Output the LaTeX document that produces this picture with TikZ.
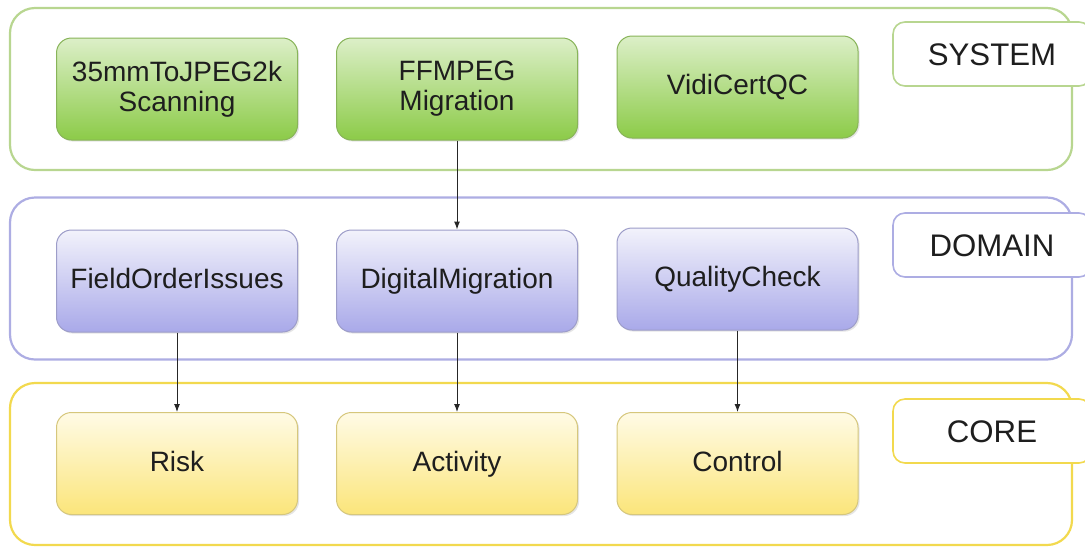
\documentclass[tikz,border=0pt]{standalone}
\usepackage{fontspec}
\setmainfont{Liberation Sans}
\usetikzlibrary{arrows.meta,shadows}
\definecolor{sysTop}{HTML}{DCEFC8}
\definecolor{sysBot}{HTML}{8CCB48}
\definecolor{sysLine}{HTML}{B8D690}
\definecolor{domTop}{HTML}{F2F2FB}
\definecolor{domBot}{HTML}{A9A9E9}
\definecolor{domLine}{HTML}{ADADE3}
\definecolor{corTop}{HTML}{FFFBE6}
\definecolor{corBot}{HTML}{FBE57A}
\definecolor{corLine}{HTML}{F2D94E}
\definecolor{ink}{HTML}{1E1E1E}
\begin{document}
\begin{tikzpicture}[x=0.5pt, y=-0.5pt,
        layer/.style={draw=#1, line width=1.1pt, rounded corners=12.5pt, fill=white,
            minimum width=531pt, minimum height=81pt, inner sep=0pt},
        tag/.style={draw=#1, line width=0.8pt, rounded corners=6pt, fill=white,
            minimum width=99pt, minimum height=32pt, inner sep=0pt,
            text height=11pt, text depth=0pt,
            font=\fontsize{15.6}{17}\selectfont, text=ink},
        box/.style 2 args={draw=#2!70!gray, line width=0.5pt, rounded corners=7.5pt,
            top color=#1Top, bottom color=#1Bot,
            drop shadow={opacity=0.2, shadow xshift=0.8pt, shadow yshift=-0.8pt},
            minimum width=120.5pt, minimum height=51pt, inner sep=0pt, align=center,
            font=\fontsize{14}{15}\selectfont, text=ink},
        one/.style={text height=10.5pt, text depth=3pt},
        link/.style={-{Latex[length=4pt, width=3pt]}, line width=0.5pt, black!85}]
        \useasboundingbox (0,0) rectangle (1085,547);

        % layers
        \node[layer=sysLine] (sysLayer) at (541,89) {};
        \node[layer=domLine] (domLayer) at (541,278.5) {};
        \node[layer=corLine] (corLayer) at (541,464) {};

        \node[tag=sysLine] (sysTag) at (992,54) {SYSTEM};
        \node[tag=domLine] (domTag) at (992,245) {DOMAIN};
        \node[tag=corLine] (corTag) at (992,431) {CORE};

        % system
        \node[box={sys}{sysBot}] (scan) at (177,89) {35mmToJPEG2k\\Scanning};
        \node[box={sys}{sysBot}] (ffmpeg) at (457,89) {FFMPEG\\Migration};
        \node[box={sys}{sysBot}, one] (vidi) at (737.5,87) {VidiCertQC};

        % domain
        \node[box={dom}{domBot}, one] (field) at (177,281) {FieldOrderIssues};
        \node[box={dom}{domBot}, one] (digital) at (457,281) {DigitalMigration};
        \node[box={dom}{domBot}, one] (quality) at (737.5,279) {QualityCheck};

        % core
        \node[box={cor}{corBot}, one] (risk) at (177,463.5) {Risk};
        \node[box={cor}{corBot}, one] (activity) at (457,463.5) {Activity};
        \node[box={cor}{corBot}, one] (control) at (737.5,463.5) {Control};

        \draw[link] (ffmpeg) -- (digital);
        \draw[link] (field) -- (risk);
        \draw[link] (digital) -- (activity);
        \draw[link] (quality) -- (control);
    \end{tikzpicture}
\end{document}
